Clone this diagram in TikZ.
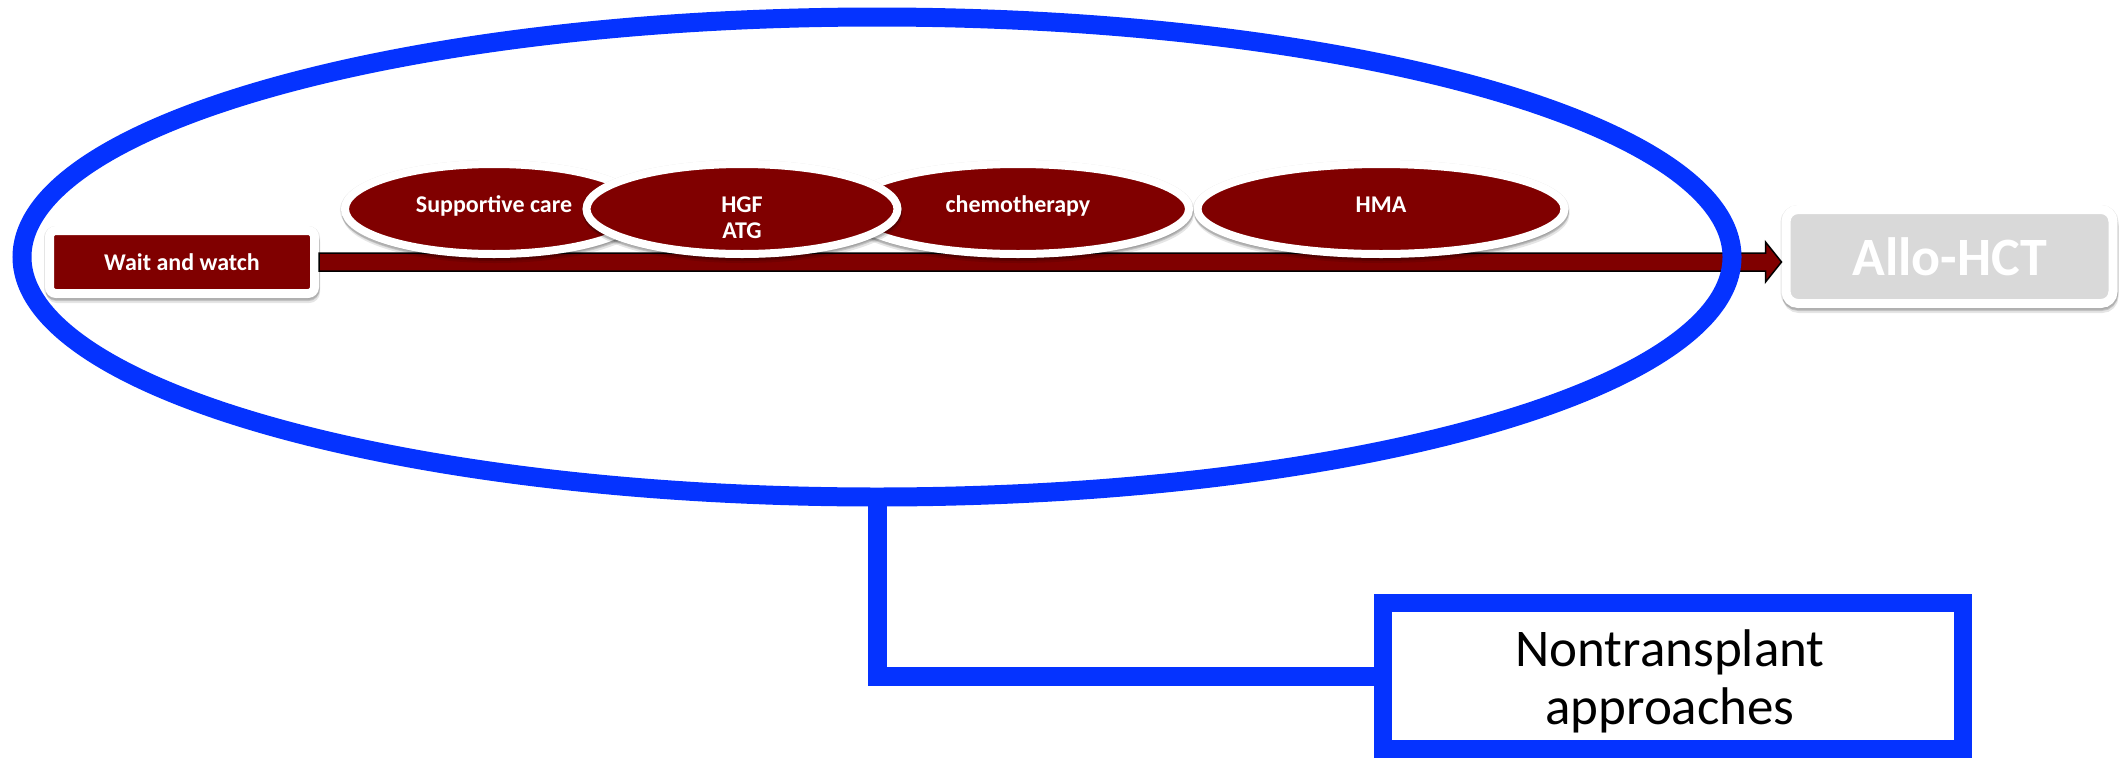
\documentclass[tikz,border=0pt]{standalone}
\usepackage{fontspec}
\setmainfont{Carlito}
\usetikzlibrary{shapes.geometric,shadows,calc}
\definecolor{maroon}{RGB}{128,0,0}
\definecolor{ringblue}{RGB}{5,51,255}
\definecolor{paleGrey}{RGB}{217,217,217}
\tikzset{
  x=1pt, y=-1pt,
  % soft grey halo plus a shadow falling below; #1 is the width of the shadow outline
  softshadow/.style={
    general shadow={shadow yshift=-1pt, opacity=0.10, fill=black, draw=black, line width=#1+2pt},
    drop shadow={shadow xshift=0.5pt, shadow yshift=-3pt, opacity=0.14, fill=black, draw=black, line width=#1},
    drop shadow={shadow xshift=1pt, shadow yshift=-5pt, opacity=0.10, fill=black, draw=black, line width=#1}},
  stagebox/.style={rectangle, rounded corners=6.5pt, fill=maroon, draw=white, line width=9pt,
    minimum width=265pt, minimum height=63pt, inner sep=0pt, softshadow=9pt,
    text=white, font=\fontsize{24}{29}\selectfont\bfseries},
  goalbox/.style={rectangle, rounded corners=12pt, fill=paleGrey, draw=white, line width=9pt,
    minimum width=327pt, minimum height=94pt, inner sep=0pt, softshadow=9pt,
    text=white, font=\fontsize{54}{60}\selectfont\bfseries},
  therapy/.style={ellipse, fill=maroon, draw=white, line width=8pt, inner sep=0pt,
    minimum height=90pt, softshadow=8pt},
  therapytext/.style={anchor=base, text=white, inner sep=0pt, font=\fontsize{24}{29}\selectfont\bfseries},
  arrowbody/.style={fill=maroon, draw=black, line width=1.5pt, line join=miter},
  bluepen/.style={draw=ringblue, line join=miter},
}
\begin{document}
\begin{tikzpicture}
\useasboundingbox (0,0) rectangle (2125,758);

% stages at both ends of the timeline
\node[stagebox] (wait) at (182,262) {Wait and watch};
\node[goalbox] (allo) at (1949.5,256.5) {Allo-HCT};

% timeline arrow from the first stage to transplant
\coordinate (tip) at (wait.east -| allo.west);
\filldraw[arrowbody]
  ($(wait.east)+(0,-9)$) -- ($(tip)+(-16,-9)$) -- ($(tip)+(-16,-20)$) -- (tip)
  -- ($(tip)+(-16,20)$) -- ($(tip)+(-16,9)$) -- ($(wait.east)+(0,9)$) -- cycle;

% therapy options along the timeline
\node[therapy, minimum width=298pt] (supp) at (494,209) {};
\node[therapy, minimum width=367pt] (hma) at (1381,209) {};
\node[therapy, minimum width=342pt] (chemo) at (1018,209) {};
\node[therapy, minimum width=311pt] (hgf) at (742,209) {};

\node[therapytext] (suppT) at (494,212) {Supportive care};
\node[therapytext] (hgfT) at (742,212) {HGF};
\node[therapytext] (atgT) at (742,238) {ATG};
\node[therapytext] (chemoT) at (1018,212) {chemotherapy};
\node[therapytext] (hmaT) at (1381,212) {HMA};

% grouping of the nontransplant options
\node[ellipse, bluepen, line width=19pt, minimum width=1710pt, minimum height=480pt, inner sep=0pt]
  (ring) at (877,257) {};

\node[rectangle, bluepen, line width=18pt, fill=white, minimum width=580pt, minimum height=146pt,
  inner sep=0pt] (nt) at (1673,676) {};
\node[align=center, inner sep=0pt, font=\fontsize{53}{58}\selectfont] (ntT) at (1670,681)
  {Nontransplant\\approaches};

\draw[bluepen, line width=19pt] ($(ring.south)+(0,-4)$) |- (nt.west);
\end{tikzpicture}
\end{document}
